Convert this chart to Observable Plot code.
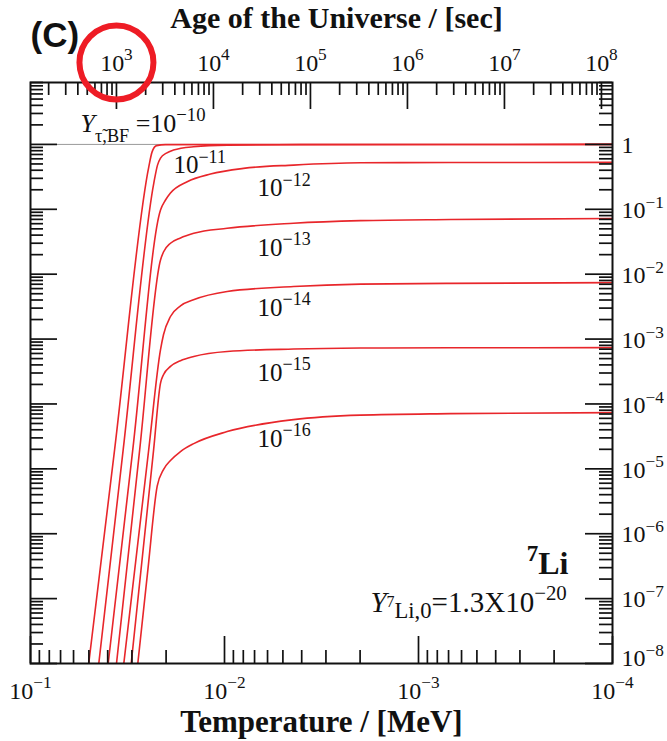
<!DOCTYPE html>
<html><head><meta charset="utf-8">
<script src="https://cdn.jsdelivr.net/npm/d3@7"></script>
<script src="https://cdn.jsdelivr.net/npm/@observablehq/plot@0.6"></script>
<style>body{margin:0;background:#fff}</style>
</head><body><div id="chart"></div>
<script>
// ---- data ----
const C_AGE = 1.3; // age [s] ~ C_AGE / T[MeV]^2 (top axis)
const tempTicks = [1e-1, 1e-2, 1e-3, 1e-4];
const tempTickLabels = ["10{b|−1}", "10{b|−2}", "10{b|−3}", "10{b|−4}"];
const ageTicks = [1e3, 1e4, 1e5, 1e6, 1e7, 1e8];
const ageTickLabels = ["10{b|3}", "10{b|4}", "10{b|5}", "10{b|6}", "10{b|7}", "10{b|8}"];
const yTicks = [1, 1e-1, 1e-2, 1e-3, 1e-4, 1e-5, 1e-6, 1e-7, 1e-8];
const yTickLabels = ["1", "10{b|−1}", "10{b|−2}", "10{b|−3}", "10{b|−4}", "10{b|−5}", "10{b|−6}", "10{b|−7}", "10{b|−8}"];

const seriesNames = ["1e-10", "1e-11", "1e-12", "1e-13", "1e-14", "1e-15", "1e-16"];
const T_bf10 = [0.0501, 0.03685, 0.02456, 0.02364, 0.02241, 0.02014, 0.0001];
const Y_bf10 = [1e-8, 1.98e-5, 0.452, 0.761, 0.958, 0.993, 1.0];
const T_bf11 = [0.04446, 0.03328, 0.02314, 0.02215, 0.02137, 0.01991, 0.01833, 0.01445, 0.00965, 0.004057, 0.0001];
const Y_bf11 = [1e-8, 1.98e-5, 0.254, 0.480, 0.616, 0.735, 0.817, 0.919, 0.975, 0.993, 1.0];
const T_bf12 = [0.03977, 0.0297, 0.02137, 0.02014, 0.01899, 0.01557, 0.01181, 0.00798, 0.004408, 0.001991, 0.000684, 0.0001];
const Y_bf12 = [1e-8, 1.98e-5, 0.0976, 0.139, 0.178, 0.266, 0.349, 0.427, 0.480, 0.521, 0.525, 0.528];
const T_bf13 = [0.03603, 0.02736, 0.02137, 0.02063, 0.01899, 0.01686, 0.0144, 0.00969, 0.004408, 0.001991, 0.000684, 0.0001];
const Y_bf13 = [1e-8, 1.98e-5, 0.0166, 0.0220, 0.0300, 0.0362, 0.0427, 0.0510, 0.0609, 0.0668, 0.0697, 0.0722];
const T_bf14 = [0.03304, 0.02458, 0.02137, 0.02063, 0.01899, 0.01686, 0.01445, 0.00969, 0.004408, 0.001991, 0.000684, 0.0001];
const Y_bf14 = [1e-8, 1.98e-5, 6.85e-4, 1.165e-3, 2.227e-3, 3.253e-3, 4.023e-3, 5.40e-3, 6.445e-3, 7.02e-3, 7.22e-3, 7.40e-3];
const T_bf15 = [0.03027, 0.02319, 0.02137, 0.02063, 0.01899, 0.01686, 0.0144, 0.00969, 0.004408, 0.001991, 0.000684, 0.0001];
const Y_bf15 = [1e-8, 1.98e-5, 2.10e-4, 2.823e-4, 3.79e-4, 4.64e-4, 5.40e-4, 6.445e-4, 7.02e-4, 7.27e-4, 7.35e-4, 7.37e-4];
const T_bf16 = [0.02798, 0.02482, 0.02223, 0.02063, 0.01899, 0.01686, 0.0144, 0.00969, 0.004408, 0.001991, 0.000684, 0.0001];
const Y_bf16 = [1e-8, 2.82e-7, 5.40e-6, 9.75e-6, 1.342e-5, 1.846e-5, 2.45e-5, 3.75e-5, 5.735e-5, 6.725e-5, 7.09e-5, 7.35e-5];

const curveLabelTexts = ["10{b|−11}", "10{b|−12}", "10{b|−13}", "10{b|−14}", "10{b|−15}", "10{b|−16}"];
const curveLabelT = [0.01833, 0.00676, 0.00676, 0.00676, 0.00676, 0.00676];
const curveLabelY = [0.362, 0.160, 0.01912, 0.002283, 2.283e-4, 2.203e-5];

const bfLabel = "{i|Y}{s|τ̃,BF} =10{b|−10}";
const bfLabelT = [0.0552], bfLabelY = [1.546];
const isoLabel = "{b|7}Li";
const isoLabelT = [1.686e-4], isoLabelY = [2.36e-7];
const initLabel = "{i|Y}{t|7}{u|Li,0}=1.3X10{b|−20}";
const initLabelT = [1.72e-4], initLabelY = [6.15e-8];
const circledAge = [1e3];

// ---- build ----
const TS = [T_bf10, T_bf11, T_bf12, T_bf13, T_bf14, T_bf15, T_bf16];
const YS = [Y_bf10, Y_bf11, Y_bf12, Y_bf13, Y_bf14, Y_bf15, Y_bf16];
const rows = [];
seriesNames.forEach((s, k) => TS[k].forEach((t, i) => rows.push({s, T: t, Y: YS[k][i]})));
const curveLabels = curveLabelTexts.map((text, i) => ({text, T: curveLabelT[i], Y: curveLabelY[i]}));
const yLabelRows = yTicks.map((v, i) => ({v, text: yTickLabels[i]}));
const yLabelsUpper = yLabelRows.slice(0, -1), yLabelsLast = yLabelRows.slice(-1);

function minors(lo, hi) {
  const out = [];
  for (let e = Math.floor(Math.log10(lo)); e <= Math.ceil(Math.log10(hi)); e++)
    for (let k = 2; k <= 9; k++) { const v = k * Math.pow(10, e); if (v >= lo * 0.999 && v <= hi * 1.001) out.push(v); }
  return out;
}
const tempMinor = minors(1e-4, 0.1);
const yMinor = minors(1e-8, 9);
const ageMinor = minors(C_AGE / 0.01, C_AGE / 1e-8);
const ageX = t => Math.sqrt(C_AGE / t);

const W = 667, H = 741, ML = 30, MR = 55, MT = 82, MB = 78;
const FW = W - ML - MR, FH = H - MT - MB;
const MAJ = 27, MIN = 13;
const tick = {stroke: "#111", strokeWidth: 1.7};
const SERIF = "'Liberation Serif', 'Times New Roman', serif";
const RED = "#e8262b";

const plot = Plot.plot({
  width: W, height: H,
  marginLeft: ML, marginRight: MR, marginTop: MT, marginBottom: MB,
  x: {type: "log", domain: [0.1, 1e-4], axis: null},
  y: {type: "log", domain: [1e-8, 9], axis: null},
  style: {fontFamily: SERIF, fontSize: "24px", background: "#fff", color: "#111"},
  marks: [
    Plot.ruleY([1], {stroke: "#999", strokeWidth: 1}),
    Plot.line(rows, {x: "T", y: "Y", z: "s", stroke: RED, strokeWidth: 1.6, curve: "monotone-x", clip: true}),
    // inward ticks: bottom (temperature)
    Plot.tickX(tempMinor, {x: d => d, insetTop: FH - MIN, ...tick}),
    Plot.tickX(tempTicks, {x: d => d, insetTop: FH - MAJ, ...tick}),
    // top (age)
    Plot.tickX(ageMinor, {x: ageX, insetBottom: FH - MIN, ...tick}),
    Plot.tickX(ageTicks, {x: ageX, insetBottom: FH - MAJ, ...tick}),
    // left & right (Y)
    Plot.tickY(yMinor, {y: d => d, insetRight: FW - MIN, ...tick}),
    Plot.tickY(yTicks, {y: d => d, insetRight: FW - MAJ, ...tick}),
    Plot.tickY(yMinor, {y: d => d, insetLeft: FW - MIN, ...tick}),
    Plot.tickY(yTicks, {y: d => d, insetLeft: FW - MAJ, ...tick}),
    Plot.frame({stroke: "#111", strokeWidth: 2}),
    // tick labels
    Plot.text(tempTicks, {x: d => d, text: (d, i) => tempTickLabels[i], frameAnchor: "bottom", lineAnchor: "bottom", dy: 35, fontSize: 24}),
    Plot.text(ageTicks, {x: ageX, text: (d, i) => ageTickLabels[i], frameAnchor: "top", lineAnchor: "bottom", dy: -12, fontSize: 24}),
    Plot.text(yLabelsUpper, {y: "v", text: "text", frameAnchor: "right", textAnchor: "start", dx: 9, dy: 1, fontSize: 24}),
    Plot.text(yLabelsLast, {y: "v", text: "text", frameAnchor: "right", textAnchor: "start", dx: 9, dy: -5, fontSize: 24}),
    // titles
    Plot.text(["Age of the Universe / [sec]"], {frameAnchor: "top", lineAnchor: "bottom", dy: -55, dx: 15, fontWeight: "bold", fontSize: 30}),
    Plot.text(["Temperature / [MeV]"], {frameAnchor: "bottom", lineAnchor: "bottom", dy: 68, fontWeight: "bold", fontSize: 31}),
    Plot.text(["(C)"], {frameAnchor: "top-left", textAnchor: "start", lineAnchor: "bottom", dy: -36, fontFamily: "'Liberation Sans', Arial, sans-serif", fontWeight: "bold", fontSize: 35}),
    // annotations
    Plot.text(curveLabels, {x: "T", y: "Y", text: "text", textAnchor: "start", lineAnchor: "bottom", fontSize: 25}),
    Plot.text([bfLabel], {x: () => bfLabelT[0], y: () => bfLabelY[0], text: d => d, textAnchor: "start", lineAnchor: "bottom", fontSize: 26}),
    Plot.text([isoLabel], {x: () => isoLabelT[0], y: () => isoLabelY[0], text: d => d, textAnchor: "end", lineAnchor: "bottom", fontSize: 32, fontWeight: "bold"}),
    Plot.text([initLabel], {x: () => initLabelT[0], y: () => initLabelY[0], text: d => d, textAnchor: "end", lineAnchor: "bottom", fontSize: 29}),
    Plot.dot(circledAge, {x: ageX, frameAnchor: "top", dy: -20, r: 37, stroke: "#ee1c25", strokeWidth: 6, fill: "none"})
  ]
});
document.getElementById("chart").appendChild(plot);

// rich text: {b|..} superscript, {s|..}/{u|..} subscript, {t|..} small raised, {i|..} italic
function richify(svg) {
  const modes = {n: {sh: 0, sz: 1}, i: {sh: 0, sz: 1, it: true}, b: {sh: -0.42, sz: 0.72},
    s: {sh: 0.36, sz: 0.7}, u: {sh: 0.2, sz: 0.78}, t: {sh: -0.18, sz: 0.55}};
  svg.querySelectorAll("text").forEach(t => {
    const s = t.textContent;
    if (!/\{\w\|/.test(s)) return;
    const fs = parseFloat(getComputedStyle(t).fontSize);
    const re = /\{(\w)\|([^}]*)\}|([^{]+)/g;
    while (t.firstChild) t.removeChild(t.firstChild);
    let prev = 0, m;
    while ((m = re.exec(s))) {
      const mode = m[1] ? modes[m[1]] : modes.n;
      const txt = m[1] ? m[2] : m[3];
      const ts = document.createElementNS("http://www.w3.org/2000/svg", "tspan");
      ts.setAttribute("dy", ((mode.sh - prev) * fs).toFixed(2));
      ts.setAttribute("font-size", (mode.sz * fs).toFixed(2));
      if (mode.it) ts.setAttribute("font-style", "italic");
      ts.textContent = txt;
      t.appendChild(ts);
      prev = mode.sh;
    }
  });
}
richify(plot);
</script>
</body></html>
